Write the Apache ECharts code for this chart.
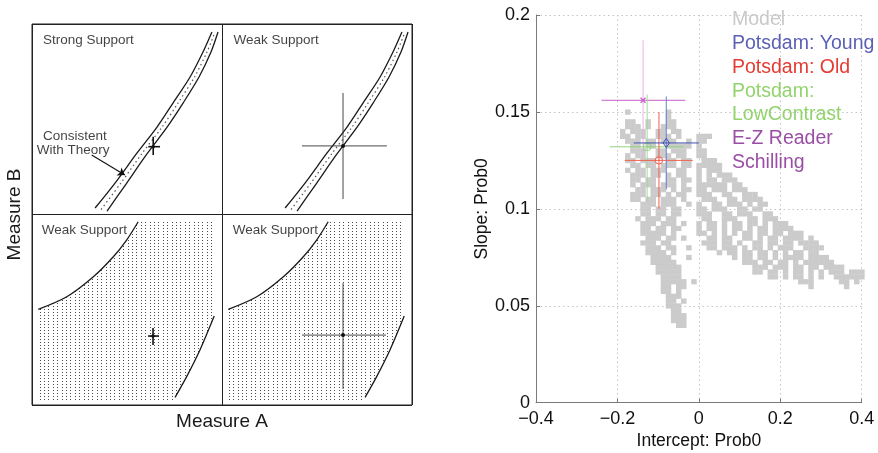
<!DOCTYPE html>
<html><head><meta charset="utf-8">
<script src="https://cdn.jsdelivr.net/npm/echarts@6/dist/echarts.min.js"></script>
<style>html,body{margin:0;padding:0;background:#fff}#c{width:878px;height:453px}</style>
</head><body><div id="c"></div>
<script>
// ================= DATA =================
// Right chart: axis ticks
const xTicks = [-0.4, -0.2, 0, 0.2, 0.4];
const yTicks = [0, 0.05, 0.1, 0.15, 0.2];
// Model cells: grid cell size and rows [row index (slope / cellH), column indexes (intercept / cellW)]
const cellW = 0.0125, cellH = 0.0025;
const modelRows = [
  [60, [-14, -6]],
  [59, [-6]],
  [58, [-14, -13, -10, -6, -5]],
  [57, [-14, -13, -12, -10, -7, -6, -5]],
  [56, [-15, -13, -12, -11, -8, -7, -5, -4]],
  [55, [-15, -14, -12, -11, -8, -7, -6, -4, 0, 1, 2]],
  [54, [-14, -13, -12, -10, -9, -7, -6, -5, -2, 0, 1]],
  [53, [-13, -12, -10, -9, -6, -5, -4, -3, -2, 0]],
  [52, [-13, -12, -11, -8, -7, -5, -4, -3, 0, 1]],
  [51, [-14, -12, -11, -8, -7, -6, -4, -3, 0, 1]],
  [50, [-14, -13, -11, -10, -9, -6, -5, -3, -2, 1, 2, 3]],
  [49, [-13, -12, -10, -9, -7, -6, -5, -3, -2, 0, 1, 2, 3, 4]],
  [48, [-14, -12, -11, -9, -8, -7, -4, -3, 0, 2, 3, 4]],
  [47, [-13, -12, -11, -9, -8, -6, -4, -3, 0, 2, 4, 5, 6]],
  [46, [-13, -12, -10, -9, -6, -5, -3, -2, 0, 2, 3, 5, 6, 7]],
  [45, [-13, -11, -10, -9, -7, -6, -5, -3, 0, 1, 2, 3, 4, 5, 7, 8]],
  [44, [-12, -11, -9, -8, -7, -5, -3, -2, 0, 1, 3, 4, 5, 7, 8, 9]],
  [43, [-13, -12, -11, -9, -8, -6, -4, -3, 0, 1, 2, 5, 6, 9, 10, 11]],
  [42, [-13, -12, -10, -9, -7, -6, -5, -3, 1, 2, 3, 6, 7, 9, 10, 11, 12]],
  [41, [-11, -10, -9, -7, -6, -5, -2, 0, 3, 4, 6, 7, 8, 10, 12, 13]],
  [40, [-11, -10, -8, -7, -5, -4, 0, 1, 3, 4, 5, 8, 9, 11, 12]],
  [39, [-11, -10, -8, -7, -5, -4, 0, 1, 2, 5, 6, 8, 9, 10, 13, 14]],
  [38, [-12, -10, -9, -8, -6, -5, 1, 2, 5, 6, 7, 10, 11, 13, 14, 15]],
  [37, [-11, -10, -9, -7, -6, -5, -3, 0, 2, 3, 5, 7, 8, 10, 11, 13, 15, 16, 17]],
  [36, [-11, -10, -8, -7, -5, -4, 0, 2, 3, 5, 7, 8, 10, 12, 13, 15, 16, 17, 18]],
  [35, [-11, -10, -9, -8, -7, -5, 0, 1, 3, 5, 7, 9, 10, 12, 13, 15, 16, 18, 19, 20]],
  [34, [-10, -9, -8, -6, -5, -3, 2, 3, 5, 6, 9, 10, 12, 14, 15, 17, 18, 19, 20, 22]],
  [33, [-11, -10, -9, -7, -6, 1, 2, 3, 5, 6, 8, 11, 12, 14, 15, 17, 18, 20, 21, 22, 23]],
  [32, [-10, -9, -8, -6, -5, -2, 2, 3, 5, 6, 7, 9, 11, 12, 14, 16, 17, 18, 21, 22, 23, 24]],
  [31, [-10, -9, -8, -7, -5, 4, 6, 7, 9, 10, 12, 13, 15, 17, 19, 20, 22, 23]],
  [30, [-9, -8, -7, -6, -2, 7, 9, 10, 12, 13, 15, 17, 18, 19, 20, 22, 23, 24, 25]],
  [29, [-9, -8, -7, -6, -5, 9, 10, 11, 13, 14, 16, 17, 19, 21, 22, 23, 24, 25, 26]],
  [28, [-8, -7, -6, -5, -4, 11, 12, 13, 15, 16, 17, 19, 20, 22, 23, 25, 26, 27, 28]],
  [27, [-8, -7, -6, -5, -4, 11, 12, 14, 15, 17, 19, 20, 22, 24, 26, 27, 28, 30, 31, 32]],
  [26, [-7, -6, -5, -4, 14, 15, 17, 19, 20, 22, 24, 27, 28, 29, 30, 31, 32]],
  [25, [-7, -6, -5, -4, -3, -1, 20, 21, 22, 28, 29, 31]],
  [24, [-7, -6, -4, -3, 22, 29]],
  [23, [-7, -6, -4]],
  [22, [-6, -5, -4]],
  [21, [-6, -5, -3]],
  [20, [-6, -5, -4]],
  [19, [-5, -4]],
  [18, [-5, -4, -3]],
  [17, [-5, -4, -3]],
  [16, [-4, -3]]
];
// Estimates with error bars: [intercept, slope, interceptLo, interceptHi, slopeLo, slopeHi]
const potsdamYoung = [-0.080, 0.134, -0.160, 0.000, 0.110, 0.158];
const potsdamOld = [-0.098, 0.125, -0.182, -0.015, 0.100, 0.150];
const potsdamLowContrast = [-0.127, 0.132, -0.219, -0.037, 0.104, 0.159];
const ezReader = [-0.137, 0.156, -0.239, -0.033, 0.127, 0.187];
const legendNames = ['Model', 'Potsdam: Young', 'Potsdam: Old', 'Potsdam:\nLowContrast', 'E-Z Reader', 'Schilling'];

// Left schematic figure (panel units: each panel is 1 x 1)
const panelOffsets = [0, 1];
const bandLeft = [[0.332,1.034],[0.437,1.165],[0.553,1.323],[0.658,1.459],[0.742,1.585],[0.832,1.722],[0.900,1.853],[0.947,1.958]];
const bandRight = [[0.395,1.018],[0.495,1.160],[0.605,1.318],[0.711,1.459],[0.795,1.585],[0.879,1.722],[0.942,1.853],[0.979,1.958]];
const regionUpper = [[0.033,0.502],[0.183,0.568],[0.323,0.673],[0.428,0.778],[0.498,0.866],[0.559,0.962]];
const regionLower = [[0.753,0.040],[0.814,0.149],[0.884,0.289],[0.959,0.467]];
// [cx, cy, xLo, xHi, yLo, yHi]
const leftCrossesBold = [[0.638,1.356,0.612,0.674,1.312,1.408],[0.637,0.362,0.611,0.668,0.315,0.404]];
const leftCrossesThin = [[1.637,1.360,1.421,1.868,1.081,1.638],[1.637,0.367,1.421,1.863,0.084,0.640]];
const panelTitles = [[0.058,1.916,'Strong Support'],[1.060,1.916,'Weak Support'],[0.051,0.919,'Weak Support'],[1.056,0.919,'Weak Support']];
const noteTexts = [[0.226,1.408,'Consistent'],[0.217,1.339,'With Theory']];
const arrowLine = [[0.314,1.312],[0.489,1.207]];

// ================= BUILD =================
const FONT = 'Liberation Sans, Arial, sans-serif';
const modelCells = [];
modelRows.forEach(([r, cols]) => cols.forEach(c => modelCells.push([c * cellW, r * cellH])));
const bandMid = bandLeft.map((p, i) => [(p[0] + bandRight[i][0]) / 2, (p[1] + bandRight[i][1]) / 2]);
const regionPolygon = regionUpper.concat([[0.958,0.962],[0.958,0.467]], regionLower.slice().reverse(), [[0.745,0.026],[0.033,0.026]]);
const shift = (arr, o) => arr.map(p => [p[0] + o, p[1]]);

// dot pattern for shaded regions
const pc = document.createElement('canvas');
pc.width = 22; pc.height = 3;
const g = pc.getContext('2d');
g.fillStyle = '#4a4a4a';
[0, 4, 9, 13, 18].forEach(x => g.fillRect(x, 0, 1, 1));

const series = [];
// ---- left figure ----
panelOffsets.forEach(o => {
  series.push({type:'custom', xAxisIndex:0, yAxisIndex:0, silent:true, z:1, data:[[o]],
    renderItem:(params, api) => {
      const off = api.value(0);
      const pts = regionPolygon.map(p => api.coord([p[0] + off, p[1]]));
      return {type:'polygon', shape:{points:pts}, style:{fill:{image:pc, repeat:'repeat'}}};
    }});
  [regionUpper, regionLower].forEach(curve => series.push({type:'line', xAxisIndex:0, yAxisIndex:0, data:shift(curve, o), smooth:0.3, symbol:'none', silent:true, z:3,
    lineStyle:{color:'#1a1a1a', width:1.3}}));
  [bandLeft, bandRight].forEach(curve => series.push({type:'line', xAxisIndex:0, yAxisIndex:0, data:shift(curve, o), smooth:0.3, symbol:'none', silent:true, z:3,
    lineStyle:{color:'#1a1a1a', width:1.3}}));
  series.push({type:'line', xAxisIndex:0, yAxisIndex:0, data:shift(bandMid, o), smooth:0.3, symbol:'none', silent:true, z:3,
    lineStyle:{color:'#555', width:1.2, type:[1.5, 3]}});
});
function crossSeries(data, width, color, dotR) {
  return {type:'custom', xAxisIndex:0, yAxisIndex:0, silent:true, z:4, data:data,
    renderItem:(params, api) => {
      const c = api.coord([api.value(0), api.value(1)]);
      const l = api.coord([api.value(2), api.value(1)]), r = api.coord([api.value(3), api.value(1)]);
      const b = api.coord([api.value(0), api.value(4)]), t = api.coord([api.value(0), api.value(5)]);
      return {type:'group', children:[
        {type:'line', shape:{x1:l[0], y1:l[1], x2:r[0], y2:r[1]}, style:{stroke:color, lineWidth:width}},
        {type:'line', shape:{x1:b[0], y1:b[1], x2:t[0], y2:t[1]}, style:{stroke:color, lineWidth:width}},
        {type:'circle', shape:{cx:c[0], cy:c[1], r:dotR}, style:{fill:'#111'}}
      ]};
    }};
}
series.push(crossSeries(leftCrossesBold, 1.6, '#111', 1.8));
series.push(crossSeries(leftCrossesThin, 0.9, '#333', 2));
series.push({type:'lines', coordinateSystem:'cartesian2d', xAxisIndex:0, yAxisIndex:0, silent:true, z:5,
  symbol:['none','arrow'], symbolSize:7, data:[{coords:arrowLine}], lineStyle:{color:'#111', width:1.1, opacity:1}});
series.push({type:'scatter', xAxisIndex:0, yAxisIndex:0, silent:true, symbolSize:0, z:6, data:panelTitles,
  label:{show:true, position:'inside', align:'left', verticalAlign:'middle', formatter:p => p.value[2], color:'#111', fontSize:13.5, fontFamily:FONT}});
series.push({type:'scatter', xAxisIndex:0, yAxisIndex:0, silent:true, symbolSize:0, z:6, data:noteTexts,
  label:{show:true, position:'inside', align:'center', verticalAlign:'middle', formatter:p => p.value[2], color:'#111', fontSize:13.5, fontFamily:FONT}});

// ---- right chart ----
series.push({name:'Model', type:'custom', xAxisIndex:1, yAxisIndex:1, silent:true, z:2, data:modelCells,
  renderItem:(params, api) => {
    const p = api.coord([api.value(0) - cellW / 2, api.value(1) + cellH / 2]);
    const s = api.size([cellW, cellH]);
    return {type:'rect', shape:{x:p[0], y:p[1], width:s[0] + 0.4, height:s[1] + 0.4}, style:{fill:'#cbcbcb'}};
  }});
function errSeries(name, est, hColor, vColor, marker) {
  return {name:name, type:'custom', xAxisIndex:1, yAxisIndex:1, silent:true, z:5, data:est ? [est] : [],
    renderItem:(params, api) => {
      const c = api.coord([api.value(0), api.value(1)]);
      const l = api.coord([api.value(2), api.value(1)]), r = api.coord([api.value(3), api.value(1)]);
      const b = api.coord([api.value(0), api.value(4)]), t = api.coord([api.value(0), api.value(5)]);
      const kids = [
        {type:'line', shape:{x1:b[0], y1:b[1], x2:t[0], y2:t[1]}, style:{stroke:vColor, lineWidth:1}},
        {type:'line', shape:{x1:l[0], y1:l[1], x2:r[0], y2:r[1]}, style:{stroke:hColor, lineWidth:1}}
      ];
      const st = {fill:'none', stroke:hColor, lineWidth:1};
      if (marker === 'diamond') kids.push({type:'polygon', shape:{points:[[c[0],c[1]-4.5],[c[0]+3.2,c[1]],[c[0],c[1]+4.5],[c[0]-3.2,c[1]]]}, style:st});
      if (marker === 'circle') kids.push({type:'circle', shape:{cx:c[0], cy:c[1], r:3.7}, style:st});
      if (marker === 'square') kids.push({type:'rect', shape:{x:c[0]-3.5, y:c[1]-3.5, width:7, height:7, r:2}, style:st});
      if (marker === 'x') kids.push(
        {type:'line', shape:{x1:c[0]-2.5, y1:c[1]-2.5, x2:c[0]+2.5, y2:c[1]+2.5}, style:{stroke:hColor, lineWidth:1.2}},
        {type:'line', shape:{x1:c[0]-2.5, y1:c[1]+2.5, x2:c[0]+2.5, y2:c[1]-2.5}, style:{stroke:hColor, lineWidth:1.2}});
      return {type:'group', children:kids};
    }};
}
series.push(errSeries('E-Z Reader', ezReader, '#c85ec8', '#e6b4e2', 'x'));
series.push(errSeries('Potsdam:\nLowContrast', potsdamLowContrast, '#8fd47a', '#9fdc98', 'square'));
series.push(errSeries('Potsdam: Old', potsdamOld, '#f2604e', '#f0604e', 'circle'));
series.push(errSeries('Potsdam: Young', potsdamYoung, '#3f4fb0', '#6a7fd0', 'diamond'));
series.push(errSeries('Schilling', null, '#9a4ea5', '#9a4ea5', 'x'));

const legendColors = ['#c9c9c9', '#5b5fb5', '#e53b33', '#92d36e', '#9a4ea5', '#9a4ea5'];
const fmt = v => String(Math.round(v * 100) / 100).replace('-', '\u2212');

const option = {
  animation: false,
  backgroundColor: '#fff',
  textStyle: {fontFamily: FONT},
  legend: {
    orient: 'vertical', left: 722, top: 3.2, itemGap: 0, itemWidth: 0, itemHeight: 0,
    icon: 'rect', selectedMode: false,
    textStyle: {fontSize: 19.5, lineHeight: 23.7, fontFamily: FONT},
    data: legendNames.map((n, i) => ({name: n, textStyle: {color: legendColors[i]}, itemStyle: {opacity: 0}}))
  },
  grid: [
    {left: 32, top: 24, width: 380, height: 381, show: true, borderColor: '#222', borderWidth: 1, backgroundColor: 'transparent', containLabel: false, outerBoundsMode: 'none'},
    {left: 536, top: 15, width: 325.7, height: 387.7, containLabel: false, outerBoundsMode: 'none'}
  ],
  xAxis: [
    {gridIndex: 0, type: 'value', min: 0, max: 2, interval: 1,
      axisLine: {show: false, onZero: false}, axisTick: {show: false}, axisLabel: {show: false},
      splitLine: {show: true, lineStyle: {color: '#222', width: 1}},
      name: 'Measure A', nameLocation: 'middle', nameGap: 7,
      nameTextStyle: {fontSize: 19, color: '#1a1a1a', fontFamily: FONT}},
    {gridIndex: 1, type: 'value', min: xTicks[0], max: xTicks[xTicks.length - 1], interval: xTicks[1] - xTicks[0],
      axisLine: {show: true, onZero: false, lineStyle: {color: '#7a7a7a'}},
      axisTick: {show: true, inside: true, length: 4, lineStyle: {color: '#7a7a7a'}},
      axisLabel: {color: '#111', fontSize: 18, margin: 7, formatter: fmt, fontFamily: FONT},
      splitLine: {show: true, lineStyle: {type: [1.5, 3], color: '#c4c4c4'}},
      name: 'Intercept: Prob0', nameLocation: 'middle', nameGap: 28,
      nameTextStyle: {fontSize: 17.5, color: '#111', fontFamily: FONT}}
  ],
  yAxis: [
    {gridIndex: 0, type: 'value', min: 0, max: 2, interval: 1,
      axisLine: {show: false, onZero: false}, axisTick: {show: false}, axisLabel: {show: false},
      splitLine: {show: true, lineStyle: {color: '#222', width: 1}},
      name: 'Measure B', nameLocation: 'middle', nameGap: 8,
      nameTextStyle: {fontSize: 19, color: '#1a1a1a', fontFamily: FONT}},
    {gridIndex: 1, type: 'value', min: yTicks[0], max: yTicks[yTicks.length - 1], interval: yTicks[1] - yTicks[0],
      axisLine: {show: true, onZero: false, lineStyle: {color: '#7a7a7a'}},
      axisTick: {show: true, inside: true, length: 4, lineStyle: {color: '#7a7a7a'}},
      axisLabel: {color: '#111', fontSize: 18, margin: 6, formatter: fmt, fontFamily: FONT},
      splitLine: {show: true, lineStyle: {type: [1.5, 3], color: '#c4c4c4'}},
      name: 'Slope: Prob0', nameLocation: 'middle', nameGap: 40,
      nameTextStyle: {fontSize: 17.5, color: '#111', fontFamily: FONT}}
  ],
  series: series
};
const chart = echarts.init(document.getElementById('c'), null, {renderer: 'canvas'});
chart.setOption(option);
</script></body></html>
